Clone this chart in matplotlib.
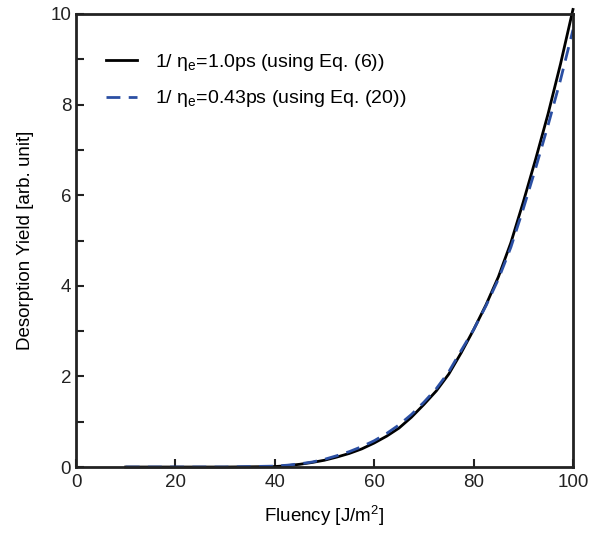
import matplotlib.pyplot as plt
from matplotlib.ticker import MultipleLocator

plt.rcParams['font.family'] = ['Liberation Sans', 'DejaVu Sans']
plt.rcParams['mathtext.fontset'] = 'custom'
plt.rcParams['mathtext.rm'] = 'Liberation Sans'
plt.rcParams['mathtext.it'] = 'Liberation Sans'

# fluency [J/m^2] and desorption yield for the two models
fluency = [10, 20, 30, 40, 42.5, 45, 47.5, 50, 52.5, 55, 57.5, 60, 62.5, 65, 67.5,
           70, 72.5, 75, 77.5, 80, 82.5, 85, 87.5, 90, 92.5, 95, 97.5, 100]
yield_eq6 = [0, 0, 0, 0.01, 0.03, 0.06, 0.1, 0.15, 0.22, 0.3, 0.4, 0.53, 0.68, 0.86, 1.1,
             1.38, 1.68, 2.05, 2.52, 3.03, 3.58, 4.2, 4.95, 5.85, 6.8, 7.8, 8.9, 10.1]
yield_eq20 = [0, 0, 0, 0.02, 0.04, 0.07, 0.11, 0.17, 0.25, 0.34, 0.45, 0.58, 0.74, 0.93, 1.16,
              1.43, 1.73, 2.1, 2.57, 3.03, 3.56, 4.15, 4.85, 5.7, 6.6, 7.55, 8.55, 9.65]

label6 = r"1/ $\mathregular{\eta_e}$=1.0ps (using Eq. (6))"
label20 = r"1/ $\mathregular{\eta_e}$=0.43ps (using Eq. (20))"

fig = plt.figure(figsize=(6.08, 5.36), dpi=100)
ax = fig.add_axes([0.125, 0.1287, 0.8174, 0.8452])

ax.plot(fluency, yield_eq6, color='black', lw=2, label=label6, clip_on=False)
ax.plot(fluency, yield_eq20, color='#2b4fa3', lw=2, ls=(0, (5, 3)), label=label20)

ax.set_xlim(0, 100)
ax.set_ylim(0, 10)
ax.xaxis.set_major_locator(MultipleLocator(20))
ax.yaxis.set_major_locator(MultipleLocator(2))
ax.yaxis.set_minor_locator(MultipleLocator(1))
ax.tick_params(which='both', direction='in', width=1.5, length=6,
               labelsize=13.5, colors='#222222')
ax.tick_params(axis='x', pad=5)
for s in ax.spines.values():
    s.set_linewidth(2)
    s.set_color('#222222')

ax.set_xlabel(r"Fluency [J/m$\mathregular{^2}$]", fontsize=13.5, labelpad=9)
ax.set_ylabel("Desorption Yield [arb. unit]", fontsize=13.5, labelpad=12)

ax.legend(loc='upper left', bbox_to_anchor=(0.025, 0.955), frameon=False, fontsize=14,
          handlelength=1.6, handletextpad=0.9, labelspacing=0.8)

fig.savefig('out.png', dpi=100)
